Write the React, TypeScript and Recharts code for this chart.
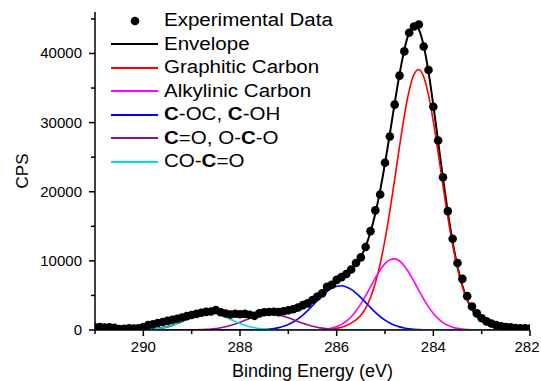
import React from 'react';
import { ComposedChart, Line, XAxis, YAxis, Legend } from 'recharts';

// binding energy grid, eV (291 -> 282, 0.1 eV steps)
const energies = [
  291.0, 290.9, 290.8, 290.7, 290.6, 290.5, 290.4, 290.3, 290.2, 290.1,
  290.0, 289.9, 289.8, 289.7, 289.6, 289.5, 289.4, 289.3, 289.2, 289.1,
  289.0, 288.9, 288.8, 288.7, 288.6, 288.5, 288.4, 288.3, 288.2, 288.1,
  288.0, 287.9, 287.8, 287.7, 287.6, 287.5, 287.4, 287.3, 287.2, 287.1,
  287.0, 286.9, 286.8, 286.7, 286.6, 286.5, 286.4, 286.3, 286.2, 286.1,
  286.0, 285.9, 285.8, 285.7, 285.6, 285.5, 285.4, 285.3, 285.2, 285.1,
  285.0, 284.9, 284.8, 284.7, 284.6, 284.5, 284.4, 284.3, 284.2, 284.1,
  284.0, 283.9, 283.8, 283.7, 283.6, 283.5, 283.4, 283.3, 283.2, 283.1,
  283.0, 282.9, 282.8, 282.7, 282.6, 282.5, 282.4, 282.3, 282.2, 282.1,
  282.0,
];

const experimental = [
  380, 420, 350, 400, 330, 120, 180, 260, 210, 250,
  420, 700, 820, 1010, 1150, 1320, 1480, 1620, 1800, 2010,
  2160, 2330, 2500, 2620, 2680, 2900, 2560, 2380, 2250, 2350,
  2280, 2330, 2200, 2050, 2400, 2560, 2610, 2650, 2580, 2720,
  2850, 3000, 3250, 3600, 3850, 4350, 4850, 5300, 6250, 6550,
  7250, 7650, 8100, 8750, 9700, 10500, 12000, 14300, 17300, 19600,
  24200, 28000, 32600, 36800, 40300, 43000, 43900, 44200, 41000, 37600,
  32300, 27400, 22100, 17200, 13200, 9700, 7400, 4900, 3400, 2400,
  1700, 1250, 950, 700, 550, 430, 380, 300, 260, 240,
  220,
];

const envelope = [
  0, 0, 0, 0, 0, 1, 2, 5, 11, 21,
  40, 72, 124, 205, 322, 483, 695, 956, 1255, 1578,
  1897, 2185, 2412, 2558, 2613, 2583, 2489, 2360, 2231, 2133,
  2086, 2095, 2155, 2248, 2350, 2438, 2500, 2529, 2533, 2539,
  2571, 2667, 2857, 3160, 3585, 4117, 4727, 5375, 6016, 6618,
  7158, 7656, 8192, 8802, 9562, 10604, 12101, 14167, 16862, 20192,
  24090, 28373, 32777, 36975, 40541, 43044, 44110, 43478, 41135, 37342,
  32533, 27245, 21939, 17018, 12718, 9185, 6445, 4408, 2975, 2007,
  1378, 853, 561, 371, 240, 160, 100, 65, 40, 25,
  15,
];

const graphitic = [
  0, 0, 0, 0, 0, 0, 0, 0, 0, 0,
  0, 0, 0, 0, 0, 0, 0, 0, 0, 0,
  0, 0, 0, 0, 0, 0, 0, 0, 0, 0,
  0, 0, 0, 0, 0, 0, 0, 0, 0, 1,
  2, 4, 6, 10, 17, 28, 45, 70, 110, 170,
  260, 400, 650, 1000, 1470, 2150, 3180, 4690, 6790, 9570,
  13070, 17210, 21800, 26540, 30980, 34620, 36980, 37690, 36630, 33980,
  30130, 25600, 20860, 16340, 12310, 8950, 6315, 4340, 2940, 1990,
  1370, 850, 560, 370, 240, 160, 100, 65, 40, 25,
  15,
];

const alkylinic = [
  0, 0, 0, 0, 0, 0, 0, 0, 0, 0,
  0, 0, 0, 0, 0, 0, 0, 0, 0, 0,
  0, 0, 0, 0, 0, 0, 0, 0, 0, 0,
  0, 0, 0, 0, 0, 0, 0, 0, 0, 0,
  0, 1, 2, 5, 11, 23, 46, 89, 165, 295,
  502, 820, 1281, 1918, 2751, 3776, 4964, 6247, 7529, 8689,
  9601, 10158, 10291, 9983, 9273, 8247, 7025, 5728, 4472, 3344,
  2394, 1641, 1077, 677, 408, 235, 130, 68, 35, 17,
  8, 3, 1, 1, 0, 0, 0, 0, 0, 0,
  0,
];

const etherHydroxyl = [
  0, 0, 0, 0, 0, 0, 0, 0, 0, 0,
  0, 0, 0, 0, 0, 0, 0, 0, 0, 0,
  0, 0, 0, 0, 0, 0, 0, 0, 0, 1,
  3, 6, 12, 23, 42, 75, 130, 216, 346, 537,
  803, 1158, 1613, 2167, 2810, 3517, 4247, 4950, 5566, 6042,
  6328, 6396, 6238, 5872, 5334, 4675, 3955, 3229, 2543, 1933,
  1419, 1005, 686, 452, 288, 177, 105, 60, 33, 18,
  9, 4, 2, 1, 0, 0, 0, 0, 0, 0,
  0, 0, 0, 0, 0, 0, 0, 0, 0, 0,
  0,
];

const carbonyl = [
  0, 0, 0, 0, 0, 0, 0, 0, 0, 0,
  0, 0, 0, 0, 0, 0, 1, 3, 5, 10,
  18, 32, 55, 92, 147, 226, 336, 481, 663, 882,
  1130, 1395, 1660, 1903, 2103, 2239, 2298, 2273, 2166, 1990,
  1761, 1502, 1235, 978, 747, 549, 389, 266, 175, 111,
  68, 40, 23, 12, 7, 3, 2, 1, 0, 0,
  0, 0, 0, 0, 0, 0, 0, 0, 0, 0,
  0, 0, 0, 0, 0, 0, 0, 0, 0, 0,
  0, 0, 0, 0, 0, 0, 0, 0, 0, 0,
  0,
];

const carboxyl = [
  0, 0, 0, 0, 0, 1, 2, 5, 11, 21,
  40, 72, 124, 205, 322, 483, 694, 953, 1250, 1568,
  1879, 2153, 2357, 2466, 2466, 2357, 2153, 1879, 1568, 1250,
  953, 694, 483, 322, 205, 124, 72, 40, 21, 11,
  5, 2, 1, 0, 0, 0, 0, 0, 0, 0,
  0, 0, 0, 0, 0, 0, 0, 0, 0, 0,
  0, 0, 0, 0, 0, 0, 0, 0, 0, 0,
  0, 0, 0, 0, 0, 0, 0, 0, 0, 0,
  0, 0, 0, 0, 0, 0, 0, 0, 0, 0,
  0,
];

const xTicks = [282, 283, 284, 285, 286, 287, 288, 289, 290, 291];
const xLabels = [282, 284, 286, 288, 290];
const yTicks = [0, 5000, 10000, 15000, 20000, 25000, 30000, 35000, 40000, 45000];
const yLabels = [0, 10000, 20000, 30000, 40000];

const FONT = 'Arial, "Liberation Sans", sans-serif';

const rows = energies.map((energy, i) => ({
  energy,
  experimental: experimental[i],
  envelope: envelope[i],
  graphitic: graphitic[i],
  alkylinic: alkylinic[i],
  etherHydroxyl: etherHydroxyl[i],
  carbonyl: carbonyl[i],
  carboxyl: carboxyl[i],
}));

// [text, bold] pieces for each legend entry
const legendItems: { label: [string, boolean][]; color: string; dot?: boolean }[] = [
  { label: [['Experimental Data', false]], color: '#000', dot: true },
  { label: [['Envelope', false]], color: '#000' },
  { label: [['Graphitic Carbon', false]], color: '#ff0000' },
  { label: [['Alkylinic Carbon', false]], color: '#ff00ff' },
  { label: [['C', true], ['-OC, ', false], ['C', true], ['-OH', false]], color: '#0000ff' },
  { label: [['C', true], ['=O, O-', false], ['C', true], ['-O', false]], color: '#8b108b' },
  { label: [['CO-', false], ['C', true], ['=O', false]], color: '#00e0e0' },
];

const renderLegend = () => (
  <div style={{ fontFamily: FONT, fontSize: 18, color: '#000' }}>
    {legendItems.map((item, i) => (
      <div key={i} style={{ display: 'flex', alignItems: 'center', height: 23.5, whiteSpace: 'nowrap' }}>
        <svg width={47} height={10} style={{ marginRight: 6, flexShrink: 0 }}>
          {item.dot ? (
            <circle cx={24} cy={5} r={4.3} fill={item.color} />
          ) : (
            <line x1={0} x2={47} y1={5} y2={5} stroke={item.color} strokeWidth={2} />
          )}
        </svg>
        {/* the labels are set a little wide */}
        <span style={{ display: 'inline-block', transform: 'scaleX(1.14)', transformOrigin: 'left center' }}>
          {item.label.map(([t, b], j) => (
            <span key={j} style={{ fontWeight: b ? 'bold' : 'normal' }}>{t}</span>
          ))}
        </span>
      </div>
    ))}
  </div>
);

const EnergyTick = (props: any) => {
  const { x, y, payload } = props;
  const major = xLabels.includes(payload.value);
  // the rightmost label sits at the chart edge, nudge it inwards
  const shift = payload.value === 282 ? -3 : 0;
  return (
    <g>
      <line x1={x} x2={x} y1={y} y2={y + (major ? 6 : 4)} stroke="#000" strokeWidth={1.5} />
      {major && (
        <text x={x + shift} y={y + 21.5} textAnchor="middle" fontSize={15} fontFamily={FONT} fill="#000">
          {payload.value}
        </text>
      )}
    </g>
  );
};

const CountTick = (props: any) => {
  const { x, y, payload } = props;
  const major = yLabels.includes(payload.value);
  return (
    <g>
      <line x1={x - (major ? 6 : 4)} x2={x} y1={y} y2={y} stroke="#000" strokeWidth={1.5} />
      {major && (
        <text x={x - 13} y={y + 5} textAnchor="end" fontSize={15} fontFamily={FONT} fill="#000">
          {payload.value}
        </text>
      )}
    </g>
  );
};

const lineProps = { type: 'monotone' as const, dot: false, isAnimationActive: false, strokeWidth: 1.6 };

export default function App() {
  return (
    <div style={{ position: 'absolute', left: 0, top: 0, background: '#fff' }}>
      <ComposedChart width={541} height={381} data={rows} margin={{ top: 12, right: 11, bottom: 0, left: 0 }}>
        <XAxis
          dataKey="energy"
          type="number"
          domain={[282, 291]}
          reversed
          allowDataOverflow
          ticks={xTicks}
          interval={0}
          tickSize={0}
          tickMargin={0}
          tick={<EnergyTick />}
          height={51}
          axisLine={{ stroke: '#000', strokeWidth: 1.5 }}
          label={{ value: 'Binding Energy (eV)', position: 'insideBottom', offset: 4, fontSize: 18, fontFamily: FONT, fill: '#000' }}
        />
        <YAxis
          type="number"
          domain={[0, 46000]}
          allowDataOverflow
          ticks={yTicks}
          interval={0}
          tickSize={0}
          tickMargin={0}
          tick={<CountTick />}
          width={95}
          axisLine={{ stroke: '#000', strokeWidth: 1.5 }}
          label={{ value: 'CPS', angle: -90, position: 'insideLeft', offset: 22, fontSize: 17, fontFamily: FONT, fill: '#000', style: { textAnchor: 'middle' } }}
        />
        <Legend
          content={renderLegend}
          layout="horizontal"
          align="center"
          verticalAlign="middle"
          wrapperStyle={{ left: 111, top: 9, width: 260, height: 'auto' }}
        />
        <Line
          dataKey="experimental"
          stroke="none"
          strokeWidth={0}
          dot={{ r: 4.3, fill: '#000', stroke: 'none' }}
          isAnimationActive={false}
        />
        <Line dataKey="envelope" stroke="#000" {...lineProps} strokeWidth={2} />
        <Line dataKey="graphitic" stroke="#ff0000" {...lineProps} />
        <Line dataKey="alkylinic" stroke="#ff00ff" {...lineProps} />
        <Line dataKey="etherHydroxyl" stroke="#0000ff" {...lineProps} />
        <Line dataKey="carbonyl" stroke="#8b108b" {...lineProps} />
        <Line dataKey="carboxyl" stroke="#00e0e0" {...lineProps} />
      </ComposedChart>
    </div>
  );
}
